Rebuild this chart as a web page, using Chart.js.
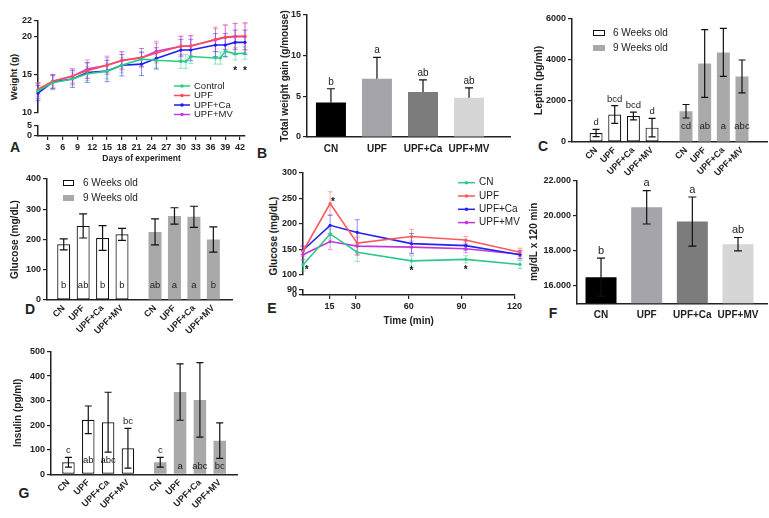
<!DOCTYPE html>
<html>
<head>
<meta charset="utf-8">
<script src="https://cdn.jsdelivr.net/npm/chart.js@4.4.1/dist/chart.umd.min.js"></script>
<style>
  html, body { margin: 0; padding: 0; background: #fff; }
  body { width: 769px; height: 518px; position: relative; overflow: hidden; font-family: "Liberation Sans", Arial, sans-serif; color: #222; }
  canvas { position: absolute; }
  .panel { position: absolute; font-weight: bold; font-size: 14px; transform: translate(-50%, -50%); }
  .ytitle { position: absolute; font-weight: bold; white-space: nowrap; transform: translate(-50%, -50%) rotate(-90deg); }
</style>
</head>
<body>
<div class="panel" style="left:15px;top:147px">A</div>
<div class="panel" style="left:262px;top:153px">B</div>
<div class="panel" style="left:543px;top:146px">C</div>
<div class="panel" style="left:30px;top:309px">D</div>
<div class="panel" style="left:272px;top:308px">E</div>
<div class="panel" style="left:553px;top:313px">F</div>
<div class="panel" style="left:24px;top:493px">G</div>
<div class="ytitle" style="left:13px;top:77px;font-size:9.5px">Weight (g)</div>
<div class="ytitle" style="left:273px;top:236px;font-size:10px">Glucose (mg/dL)</div>
<script>
// ---- data ----
const groups = ['CN', 'UPF', 'UPF+Ca', 'UPF+MV'];

// A: body weight (g) by day
const days = [1, 4, 8, 11, 15, 18, 22, 25, 30, 31, 32, 37, 38, 39, 41, 43];
const dayTicks = [3, 6, 9, 12, 15, 18, 21, 24, 27, 30, 33, 36, 39, 42];
const wControl = [12.85, 13.9, 14.4, 15.1, 15.4, 16.2, 17.0, 16.85, 16.7, 16.7, 17.35, 17.15, 17.15, 18.05, 17.7, 17.8];
const wUpf     = [13.05, 14.1, 14.8, 15.5, 16.2, 16.85, 17.2, 17.8, 18.7, null, 18.7, 19.6, null, 19.9, 20.0, 20.0];
const wUpfCa   = [12.55, 14.0, 14.4, 15.25, 15.45, 16.2, 16.35, 17.1, 18.2, null, 18.2, 18.85, null, 18.85, 19.2, 19.2];
const wUpfMv   = [12.8, 14.1, 14.75, 15.7, 16.2, 16.8, 17.2, 18.05, 18.7, null, 18.75, 19.5, null, 19.85, 19.95, 19.95];
const sdControl = [1.0, 0.9, 0.8, 0.9, 1.0, 1.0, 1.0, 1.0, 0.9, 0.9, 0.9, 0.8, 0.8, 0.8, 0.8, 0.8];
const sdUpf     = [0.9, 0.9, 0.9, 1.0, 1.0, 1.1, 1.2, 1.3, 1.3, null, 1.4, 1.6, null, 1.6, 1.7, 1.8];
const sdUpfCa   = [1.0, 0.9, 1.1, 1.3, 1.4, 1.4, 1.5, 1.4, 1.4, null, 1.4, 1.5, null, 1.5, 1.6, 1.6];
const sdUpfMv   = [1.0, 0.9, 1.0, 1.2, 1.2, 1.2, 1.2, 1.3, 1.3, null, 1.3, 1.5, null, 1.6, 1.7, 1.7];
const weightStarDays = [41, 43];
const weightStarLevel = [15.7, 15.7];

// B: total weight gain (g/mouse)
const gainMean = [4.25, 7.15, 5.52, 4.82];
const gainSd = [1.68, 2.65, 1.51, 1.23];
const gainLetters = ['b', 'a', 'ab', 'ab'];

// C: leptin (pg/ml)
const leptin6 = [440, 1340, 1270, 700];
const leptin6Sd = [180, 430, 190, 450];
const leptin9 = [1500, 3830, 4370, 3200];
const leptin9Sd = [330, 1650, 1170, 800];
const leptin6Letters = ['d', 'bcd', 'bcd', 'd'];
const leptin9Letters = ['cd', 'ab', 'a', 'abc'];
const leptinTicks = [0, 2000, 4000, 6000];

// D: glucose (mg/dL)
const glu6 = [184, 245, 205, 217];
const glu6Sd = [18, 40, 41, 20];
const glu9 = [225, 278, 275, 200];
const glu9Sd = [43, 27, 35, 42];
const glu6Letters = ['b', 'ab', 'b', 'b'];
const glu9Letters = ['ab', 'a', 'a', 'b'];
const gluTicks = [0, 100, 200, 300, 400];

// E: glucose tolerance (mg/dL) by minute
const times = [0, 15, 30, 60, 90, 120];
const timeTicks = [15, 30, 60, 90, 120];
const ogttCn    = [119, 180, 144, 127, 130, 120];
const ogttUpf   = [146, 240, 162, 175, 168, 144];
const ogttUpfCa = [148, 197, 183, 161, 157, 139];
const ogttUpfMv = [139, 165, 156, 154, 151, 140];
const ogttCnSd    = [12, 10, 18, 10, 7, 8];
const ogttUpfSd   = [10, 23, 22, 14, 7, 8];
const ogttUpfCaSd = [8, 20, 25, 20, 9, 8];
const ogttUpfMvSd = [10, 16, 18, 12, 8, 8];
const ogttStarTimes = [2, 16.5, 60, 90];
const ogttStarLevel = [112, 246, 110, 112];

// F: area under curve
const aucMean = [16490, 20470, 19660, 18370];
const aucSd = [1080, 950, 1400, 380];
const aucLetters = ['b', 'a', 'a', 'ab'];
const aucTicks = [16000, 18000, 20000, 22000];

// G: insulin (pg/ml)
const ins6 = [49, 222, 212, 106];
const ins6Sd = [20, 56, 122, 81];
const ins9 = [49, 335, 303, 137];
const ins9Sd = [20, 115, 152, 72];
const ins6Letters = ['c', 'ab', 'abc', 'bc'];
const ins9Letters = ['c', 'a', 'abc', 'bc'];
const insTicks = [0, 100, 200, 300, 400, 500];

// ---- look ----
const FONT = '"Liberation Sans", Arial, sans-serif';
Chart.defaults.font.family = FONT;
Chart.defaults.font.size = 9;
Chart.defaults.font.weight = 'bold';
Chart.defaults.color = '#222';
Chart.defaults.animation = false;
Chart.defaults.plugins.legend.display = false;
Chart.defaults.plugins.tooltip.enabled = false;

const LINE_A = { green: '#27cf86', red: '#ff4d57', blue: '#1c1cf5', purple: '#c53cf0' };
const LINE_E = { green: '#30c98a', red: '#fb5a5a', blue: '#2424ee', purple: '#c436d8' };
const barGrays = ['#000000', '#a4a4aa', '#7c7c7c', '#d6d6d6'];
const GRAY9 = '#a9a9a9';

function valOf(d) { return d !== null && typeof d === 'object' ? d.y : d; }

function drawErrors(chart, behind) {
  const ctx = chart.ctx;
  chart.data.datasets.forEach((ds, di) => {
    if (!ds.sd || !!ds.errBehind !== behind) return;
    const meta = chart.getDatasetMeta(di);
    const ys = chart.scales[meta.yAxisID];
    const cap = ds.errCap || 4;
    ctx.save();
    ctx.strokeStyle = ds.errColor || '#111';
    ctx.lineWidth = ds.errWidth || 1.2;
    meta.data.forEach((el, i) => {
      const v = valOf(ds.data[i]), s = ds.sd[i];
      if (v == null || s == null) return;
      const top = ys.getPixelForValue(v + s);
      const bot = ys.getPixelForValue(ds.errUp ? v : v - s);
      ctx.beginPath();
      ctx.moveTo(el.x, top); ctx.lineTo(el.x, bot);
      ctx.moveTo(el.x - cap, top); ctx.lineTo(el.x + cap, top);
      if (!ds.errUp) { ctx.moveTo(el.x - cap, bot); ctx.lineTo(el.x + cap, bot); }
      ctx.stroke();
    });
    ctx.restore();
  });
}

const errorBars = {
  id: 'errorBars',
  beforeDatasetsDraw(chart) { drawErrors(chart, true); },
  afterDatasetsDraw(chart) { drawErrors(chart, false); }
};

// significance letters, either above the error bar or inside the bar
const sigLetters = {
  id: 'sigLetters',
  afterDatasetsDraw(chart) {
    const ctx = chart.ctx;
    chart.data.datasets.forEach((ds, di) => {
      if (!ds.letters) return;
      const meta = chart.getDatasetMeta(di);
      const ys = chart.scales[meta.yAxisID];
      ctx.save();
      ctx.font = ds.letterFont || '10px ' + FONT;
      ctx.fillStyle = '#222';
      ctx.textAlign = 'center';
      ds.letters.forEach((t, i) => {
        const el = meta.data[i];
        const v = valOf(ds.data[i]), s = ds.sd ? ds.sd[i] : 0;
        const at = ds.letterAt ? ds.letterAt[i] : 'top';
        if (at === 'top') {
          ctx.textBaseline = 'bottom';
          ctx.fillText(t, el.x, ys.getPixelForValue(v + s) - 2);
        } else {
          ctx.textBaseline = 'middle';
          ctx.fillText(t, el.x, ys.bottom - at);
        }
      });
      ctx.restore();
    });
  }
};
Chart.register(errorBars, sigLetters);

function legendBox(o) {
  return {
    id: 'legendBox',
    afterDraw(chart) {
      const ctx = chart.ctx;
      ctx.save();
      ctx.font = o.font;
      ctx.textBaseline = 'middle';
      chart.data.datasets.forEach((ds, i) => {
        const y = o.y + i * o.dy;
        if (o.type === 'line') {
          ctx.strokeStyle = ds.borderColor; ctx.lineWidth = 1.5;
          ctx.beginPath(); ctx.moveTo(o.x, y); ctx.lineTo(o.x + o.w, y); ctx.stroke();
          ctx.fillStyle = ds.borderColor;
          ctx.beginPath(); ctx.arc(o.x + o.w / 2, y, 1.8, 0, Math.PI * 2); ctx.fill();
        } else {
          ctx.fillStyle = ds.backgroundColor;
          ctx.fillRect(o.x, y - 3, o.w, 6);
          if (ds.borderWidth) {
            ctx.strokeStyle = ds.borderColor; ctx.lineWidth = 1;
            ctx.strokeRect(o.x + 0.5, y - 2.5, o.w - 1, 5);
          }
        }
        ctx.fillStyle = '#222';
        ctx.fillText(ds.label, o.x + o.w + o.gap, y);
      });
      ctx.restore();
    }
  };
}

function starMarks(xs, ys) {
  return {
    id: 'starMarks',
    afterDatasetsDraw(chart) {
      const ctx = chart.ctx;
      ctx.save();
      ctx.font = 'bold 10px ' + FONT;
      ctx.fillStyle = '#111'; ctx.textAlign = 'center'; ctx.textBaseline = 'middle';
      xs.forEach((xv, i) => {
        ctx.fillText('*', chart.scales.x.getPixelForValue(xv), chart.scales.y.getPixelForValue(ys[i]) + 2);
      });
      ctx.restore();
    }
  };
}

function makeChart(box, config) {
  const c = document.createElement('canvas');
  c.width = box[2]; c.height = box[3];
  c.style.left = box[0] + 'px'; c.style.top = box[1] + 'px';
  document.body.appendChild(c);
  config.options = Object.assign({ responsive: false, animation: false, events: [] }, config.options);
  return new Chart(c, config);
}

const tickGrid = { display: true, drawOnChartArea: false, drawTicks: true, tickLength: 4, color: '#222', lineWidth: 1.2 };
const axisBorder = { display: true, color: '#222', width: 1.5 };

function yScale(min, max, ticks, width, title, fmt) {
  return {
    type: 'linear', min, max, beginAtZero: false,
    afterBuildTicks: s => { s.ticks = ticks.map(v => ({ value: v })); },
    afterFit: s => { s.width = width; },
    grid: tickGrid, border: axisBorder,
    ticks: { padding: 2, autoSkip: false, font: { size: 9, weight: 'bold' }, callback: fmt || (v => String(v)) },
    title: title ? { display: true, text: title.text, font: { size: title.size || 10, weight: 'bold' }, padding: 0 } : { display: false }
  };
}

function xLinScale(min, max, ticks, height, title, titleSize) {
  return {
    type: 'linear', min, max,
    afterBuildTicks: s => { s.ticks = ticks.map(v => ({ value: v })); },
    afterFit: s => { s.height = height; },
    grid: tickGrid, border: axisBorder,
    ticks: { padding: 2, autoSkip: false, maxRotation: 0, font: { size: 9, weight: 'bold' }, callback: v => String(v) },
    title: { display: true, text: title, font: { size: titleSize, weight: 'bold' }, padding: 0 }
  };
}

// bar group axis: bars sit on a linear axis so the gaps match the figure
function xBarScale(min, max, pos, names, height, rot, size, pad) {
  return {
    type: 'linear', min, max, offset: false,
    afterBuildTicks: s => { s.ticks = pos.map(v => ({ value: v })); },
    afterFit: s => { s.height = height; },
    grid: { display: false, drawTicks: false }, border: axisBorder,
    ticks: { autoSkip: false, padding: pad, minRotation: rot, maxRotation: rot, font: { size, weight: 'bold' }, callback: (v, i) => names[i] }
  };
}

function lineSet(label, color, vals, sd, xs) {
  return {
    label, data: vals.map((v, i) => ({ x: xs[i], y: v })), sd,
    borderColor: color, backgroundColor: color, borderWidth: 1.6,
    pointRadius: 1.6, pointBorderWidth: 0, spanGaps: true, tension: 0, clip: false,
    errColor: color + '80', errWidth: 1, errCap: 2.5, errBehind: true
  };
}

function barsAt(vals, shift) { return vals.map((v, i) => ({ x: i + shift, y: v })); }
function positions(shift) { return [0, 1, 2, 3].concat([0, 1, 2, 3].map(i => i + shift)); }
const twoGroups = groups.concat(groups);

const openBar = { backgroundColor: '#ffffff', borderColor: '#111', borderWidth: 1.2, borderSkipped: false, grouped: false };
const grayBar = { backgroundColor: GRAY9, borderWidth: 0, grouped: false };

// ---- A: weight curves (axis broken between 5 and 10) ----
makeChart([0, 10, 252, 110], {
  type: 'line',
  data: { datasets: [
    lineSet('Control', LINE_A.green, wControl, sdControl, days),
    lineSet('UPF', LINE_A.red, wUpf, sdUpf, days),
    lineSet('UPF+Ca', LINE_A.blue, wUpfCa, sdUpfCa, days),
    lineSet('UPF+MV', LINE_A.purple, wUpfMv, sdUpfMv, days)
  ] },
  options: {
    layout: { padding: { left: 4, top: 11, right: 7, bottom: 4 } },
    scales: { x: { type: 'linear', min: 1, max: 43, display: false }, y: yScale(10, 22, [10, 15, 20, 22], 34) }
  },
  plugins: [legendBox({ x: 174, y: 76, dy: 9.5, w: 16, gap: 4, type: 'line', font: '9.5px ' + FONT }), starMarks(weightStarDays, weightStarLevel)]
});
makeChart([0, 118, 252, 46], {
  type: 'line', data: { datasets: [] },
  options: {
    layout: { padding: { left: 4, top: 6, right: 7, bottom: 0 } },
    scales: { x: xLinScale(1, 43, dayTicks, 28, 'Days of experiment', 8.5), y: yScale(0, 5, [0, 5], 34) }
  }
});

// ---- B: total weight gain ----
makeChart([255, 5, 258, 172], {
  type: 'bar',
  data: { datasets: [{
    data: barsAt(gainMean, 0), sd: gainSd, errUp: true, errCap: 4,
    letters: gainLetters, letterFont: '10px ' + FONT,
    backgroundColor: barGrays, grouped: false, maxBarThickness: 30
  }] },
  options: {
    layout: { padding: { left: 24, top: 10, right: 3, bottom: 0 } },
    scales: {
      x: xBarScale(-0.52, 3.89, [0, 1, 2, 3], groups, 40, 0, 10, 6),
      y: yScale(0, 15, [0, 5, 10, 15], 28, { text: 'Total weight gain (g/mouse)' })
    }
  }
});

// ---- C: leptin ----
makeChart([512, 5, 257, 180], {
  type: 'bar',
  data: { datasets: [
    Object.assign({ label: '6 Weeks old', data: barsAt(leptin6, 0), sd: leptin6Sd, letters: leptin6Letters,
      letterFont: '9.5px ' + FONT, maxBarThickness: 13, errCap: 3.5 }, openBar),
    Object.assign({ label: '9 Weeks old', data: barsAt(leptin9, 4.82), sd: leptin9Sd, letters: leptin9Letters,
      letterAt: [16, 16, 16, 16], letterFont: '9.5px ' + FONT, maxBarThickness: 13, errCap: 3.5 }, grayBar)
  ] },
  options: {
    layout: { padding: { left: 21, top: 14, right: 2, bottom: 0 } },
    scales: {
      x: xBarScale(-1.29, 9.16, positions(4.82), twoGroups, 43, 45, 9, 3),
      y: yScale(0, 6000, leptinTicks, 39, { text: 'Leptin (pg/ml)', size: 10.5 })
    }
  },
  plugins: [legendBox({ x: 81, y: 28, dy: 15, w: 12, gap: 8, type: 'box', font: '10px ' + FONT })]
});

// ---- D: glucose ----
makeChart([0, 165, 240, 175], {
  type: 'bar',
  data: { datasets: [
    Object.assign({ label: '6 Weeks old', data: barsAt(glu6, 0), sd: glu6Sd, letters: glu6Letters,
      letterAt: [15, 15, 15, 15], letterFont: '9.5px ' + FONT, maxBarThickness: 13, errCap: 4 }, openBar),
    Object.assign({ label: '9 Weeks old', data: barsAt(glu9, 4.7), sd: glu9Sd, letters: glu9Letters,
      letterAt: [15, 15, 15, 15], letterFont: '9.5px ' + FONT, maxBarThickness: 13, errCap: 4 }, grayBar)
  ] },
  options: {
    layout: { padding: { left: 9, top: 14, right: 8, bottom: 0 } },
    scales: {
      x: xBarScale(-0.86, 8.66, positions(4.7), twoGroups, 40, 45, 9, 3),
      y: yScale(0, 400, gluTicks, 38, { text: 'Glucose (mg/dL)' })
    }
  },
  plugins: [legendBox({ x: 63, y: 18, dy: 15, w: 11, gap: 9, type: 'box', font: '10px ' + FONT })]
});

// ---- E: glucose tolerance (axis broken between 90 and 100) ----
makeChart([262, 160, 262, 122], {
  type: 'line',
  data: { datasets: [
    lineSet('CN', LINE_E.green, ogttCn, ogttCnSd, times),
    lineSet('UPF', LINE_E.red, ogttUpf, ogttUpfSd, times),
    lineSet('UPF+Ca', LINE_E.blue, ogttUpfCa, ogttUpfCaSd, times),
    lineSet('UPF+MV', LINE_E.purple, ogttUpfMv, ogttUpfMvSd, times)
  ] },
  options: {
    layout: { padding: { left: 4, top: 13, right: 4, bottom: 4 } },
    scales: { x: { type: 'linear', min: 0, max: 120, display: false }, y: yScale(100, 300, [100, 150, 200, 250, 300], 37) }
  },
  plugins: [legendBox({ x: 196, y: 22.7, dy: 13.3, w: 17, gap: 4, type: 'line', font: '10px ' + FONT }), starMarks(ogttStarTimes, ogttStarLevel)]
});
makeChart([262, 282, 262, 45], {
  type: 'line', data: { datasets: [] },
  options: {
    layout: { padding: { left: 4, top: 6, right: 4, bottom: 0 } },
    scales: { x: xLinScale(0, 120, timeTicks, 32, 'Time (min)', 10), y: yScale(0, 90, [0, 90], 37) }
  }
});

// ---- F: AUC ----
makeChart([522, 170, 247, 160], {
  type: 'bar',
  data: { datasets: [{
    data: barsAt(aucMean, 0), sd: aucSd, errCap: 4,
    letters: aucLetters, letterFont: '11px ' + FONT,
    backgroundColor: barGrays, grouped: false, maxBarThickness: 31
  }] },
  options: {
    layout: { padding: { left: 6, top: 10.5, right: 2, bottom: 0 } },
    scales: {
      x: xBarScale(-0.526, 3.635, [0, 1, 2, 3], groups, 26.7, 0, 10, 6),
      y: yScale(15000, 22000, aucTicks, 49, { text: 'mg/dL x 120 min' }, v => (v / 1000).toFixed(3))
    }
  }
});

// ---- G: insulin ----
makeChart([0, 340, 245, 178], {
  type: 'bar',
  data: { datasets: [
    Object.assign({ label: '6 Weeks old', data: barsAt(ins6, 0), sd: ins6Sd, letters: ins6Letters,
      letterAt: ['top', 14, 14, 'top'], letterFont: '9.5px ' + FONT, maxBarThickness: 12.5, errCap: 3.5 }, openBar),
    Object.assign({ label: '9 Weeks old', data: barsAt(ins9, 4.63), sd: ins9Sd, letters: ins9Letters,
      letterAt: ['top', 8, 8, 8], letterFont: '9.5px ' + FONT, maxBarThickness: 12.5, errCap: 3.5 }, grayBar)
  ] },
  options: {
    layout: { padding: { left: 12, top: 11.5, right: 8, bottom: 0 } },
    scales: {
      x: xBarScale(-0.88, 8.5, positions(4.63), twoGroups, 43.7, 45, 9, 3),
      y: yScale(0, 500, insTicks, 39, { text: 'Insulin (pg/ml)' })
    }
  }
});
</script>
</body>
</html>
